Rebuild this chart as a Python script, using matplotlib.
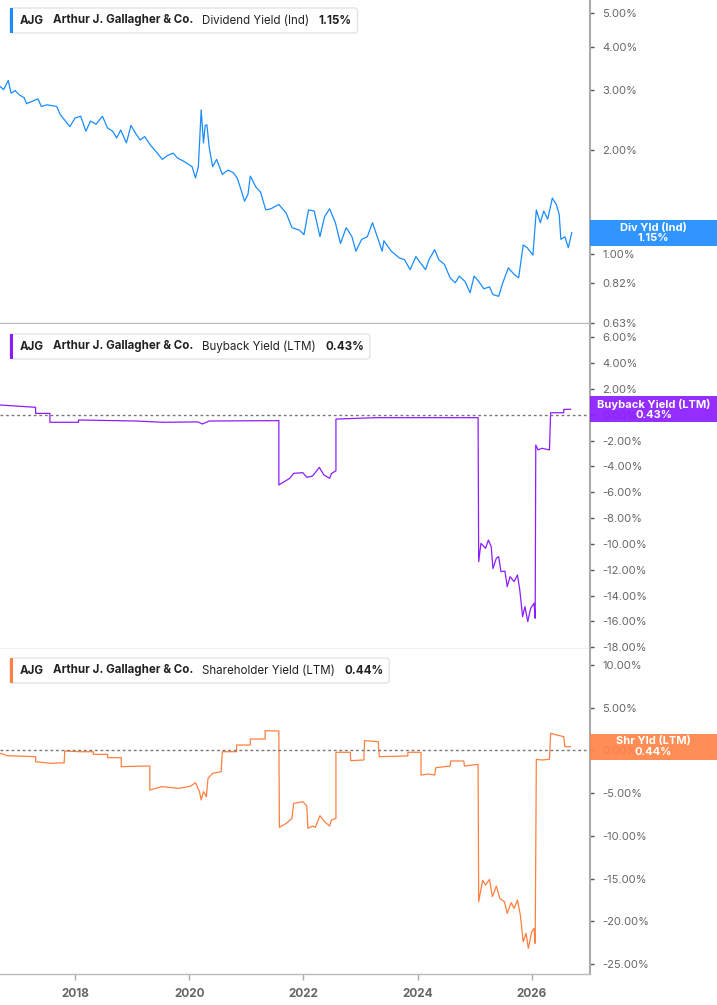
import numpy as np
import matplotlib.pyplot as plt
from matplotlib.patches import Rectangle, FancyBboxPatch
from matplotlib.ticker import FixedLocator, NullLocator, FuncFormatter
from matplotlib.transforms import IdentityTransform

plt.rcParams['font.family'] = ['Inter', 'DejaVu Sans']

# ---- data ----
div_years = [2016.69, 2016.75, 2016.83, 2016.88, 2016.95, 2017.02, 2017.11, 2017.15, 2017.35, 2017.41,
             2017.51, 2017.68, 2017.74, 2017.91, 2018.00, 2018.10, 2018.19, 2018.27, 2018.37, 2018.48,
             2018.57, 2018.66, 2018.73, 2018.80, 2018.90, 2018.98, 2019.06, 2019.14, 2019.22, 2019.32,
             2019.42, 2019.53, 2019.62, 2019.72, 2019.79, 2019.92, 2020.05, 2020.11, 2020.16, 2020.21,
             2020.25, 2020.28, 2020.31, 2020.35, 2020.41, 2020.48, 2020.58, 2020.68, 2020.77, 2020.84,
             2020.91, 2020.97, 2021.03, 2021.07, 2021.17, 2021.25, 2021.34, 2021.43, 2021.57, 2021.70,
             2021.80, 2021.93, 2022.01, 2022.09, 2022.19, 2022.29, 2022.37, 2022.46, 2022.56, 2022.65,
             2022.75, 2022.85, 2022.92, 2023.02, 2023.12, 2023.21, 2023.31, 2023.38, 2023.41, 2023.54,
             2023.68, 2023.77, 2023.87, 2023.97, 2024.07, 2024.14, 2024.20, 2024.30, 2024.37, 2024.47,
             2024.57, 2024.66, 2024.73, 2024.83, 2024.92, 2024.99, 2025.07, 2025.16, 2025.26, 2025.32,
             2025.42, 2025.49, 2025.59, 2025.69, 2025.77, 2025.85, 2025.92, 2026.02, 2026.08, 2026.15,
             2026.21, 2026.28, 2026.36, 2026.43, 2026.48, 2026.51, 2026.58, 2026.64, 2026.70]
div_vals = [3.06, 3.00, 3.19, 2.93, 2.98, 2.90, 2.84, 2.73, 2.82, 2.68,
            2.71, 2.68, 2.54, 2.34, 2.48, 2.51, 2.27, 2.43, 2.38, 2.51,
            2.32, 2.27, 2.17, 2.29, 2.10, 2.36, 2.24, 2.14, 2.19, 2.07,
            1.98, 1.88, 1.93, 1.96, 1.90, 1.85, 1.79, 1.66, 1.79, 2.62,
            2.10, 2.36, 2.37, 2.04, 1.79, 1.88, 1.70, 1.75, 1.72, 1.66,
            1.53, 1.42, 1.49, 1.68, 1.56, 1.51, 1.34, 1.35, 1.39, 1.31,
            1.19, 1.17, 1.135, 1.34, 1.33, 1.12, 1.28, 1.35, 1.23, 1.07,
            1.19, 1.12, 1.016, 1.10, 1.12, 1.23, 1.10, 1.016, 1.09, 1.016,
            0.971, 0.96, 0.898, 0.98, 0.93, 0.898, 0.96, 1.027, 0.96, 0.93,
            0.85, 0.822, 0.86, 0.83, 0.769, 0.86, 0.83, 0.79, 0.80, 0.76,
            0.751, 0.82, 0.909, 0.87, 0.85, 1.06, 1.04, 0.99, 1.34, 1.23,
            1.33, 1.26, 1.45, 1.39, 1.30, 1.10, 1.12, 1.04, 1.15]

bb_years = [2016.69, 2017.31, 2017.31, 2017.56, 2017.56, 2018.06, 2018.06, 2019.06, 2019.55, 2020.15,
            2020.23, 2020.35, 2021.57, 2021.57, 2021.76, 2021.83, 2021.99, 2022.06, 2022.16, 2022.28,
            2022.36, 2022.46, 2022.49, 2022.57, 2022.57, 2023.28, 2025.06, 2025.07, 2025.11, 2025.19,
            2025.24, 2025.29, 2025.32, 2025.38, 2025.42, 2025.46, 2025.53, 2025.57, 2025.62, 2025.69,
            2025.75, 2025.79, 2025.84, 2025.88, 2025.93, 2025.98, 2026.04, 2026.06, 2026.07, 2026.11,
            2026.18, 2026.31, 2026.33, 2026.56, 2026.56, 2026.68]
bb_vals = [0.76, 0.58, 0.11, 0.11, -0.58, -0.58, -0.40, -0.48, -0.58, -0.55,
           -0.71, -0.48, -0.45, -5.43, -4.92, -4.53, -4.48, -4.84, -4.74, -4.07,
           -4.66, -4.92, -4.55, -4.33, -0.33, -0.22, -0.22, -11.37, -9.95, -10.34,
           -9.70, -10.21, -11.90, -11.10, -10.98, -12.14, -12.10, -13.30, -12.53, -12.91,
           -12.40, -13.56, -15.62, -14.85, -16.01, -14.98, -14.59, -15.75, -2.34, -2.72,
           -2.59, -2.72, 0.16, 0.16, 0.42, 0.43]

shr_years = [2016.69, 2016.82, 2017.31, 2017.31, 2017.58, 2017.81, 2017.82, 2018.07, 2018.32, 2018.32,
             2018.57, 2018.57, 2018.81, 2018.81, 2019.31, 2019.31, 2019.52, 2019.82, 2020.02, 2020.11,
             2020.18, 2020.21, 2020.25, 2020.30, 2020.33, 2020.41, 2020.56, 2020.58, 2020.83, 2020.83,
             2021.07, 2021.07, 2021.33, 2021.33, 2021.57, 2021.58, 2021.70, 2021.80, 2021.83, 2021.99,
             2022.06, 2022.08, 2022.16, 2022.21, 2022.29, 2022.37, 2022.46, 2022.49, 2022.57, 2022.57,
             2022.82, 2022.83, 2023.06, 2023.07, 2023.31, 2023.33, 2023.83, 2023.83, 2024.06, 2024.06,
             2024.20, 2024.30, 2024.32, 2024.57, 2024.58, 2024.81, 2024.82, 2025.06, 2025.07, 2025.14,
             2025.19, 2025.26, 2025.31, 2025.38, 2025.44, 2025.52, 2025.57, 2025.64, 2025.69, 2025.75,
             2025.80, 2025.85, 2025.90, 2025.94, 2026.00, 2026.04, 2026.06, 2026.08, 2026.18, 2026.31,
             2026.33, 2026.44, 2026.56, 2026.58, 2026.68]
shr_vals = [-0.34, -0.62, -0.73, -1.32, -1.51, -1.45, -0.07, -0.15, -0.15, -0.46,
            -0.46, -0.85, -0.85, -1.90, -1.82, -4.64, -4.24, -4.44, -4.20, -3.78,
            -4.83, -5.80, -4.83, -5.42, -3.27, -2.68, -2.49, -0.15, -0.15, 0.63,
            0.63, 1.33, 1.33, 2.31, 2.27, -9.00, -8.54, -7.95, -6.20, -6.00,
            -6.51, -9.12, -8.85, -9.00, -7.64, -8.34, -8.85, -8.15, -7.95, -0.22,
            -0.22, -1.20, -1.12, 1.14, 1.02, -0.73, -0.65, -0.22, -0.22, -2.88,
            -2.76, -2.88, -2.02, -1.83, -1.24, -1.24, -1.83, -1.63, -17.71, -15.20,
            -15.76, -15.10, -17.12, -15.88, -17.32, -17.71, -19.07, -17.82, -18.49, -17.51,
            -19.27, -22.39, -21.41, -23.17, -21.22, -20.83, -22.58, -1.04, -1.12, -1.04,
            2.00, 1.80, 1.61, 0.44, 0.44]

year_ticks = [2018, 2020, 2022, 2024, 2026]
div_ticks = [0.63, 0.82, 1, 2, 3, 4, 5]
bb_ticks = [6, 4, 2, 0, -2, -4, -6, -8, -10, -12, -14, -16, -18]
shr_ticks = [10, 5, 0, -5, -10, -15, -20, -25]

blue = '#1a8cff'
purple = '#8b1eff'
orange = '#ff8040'

W, H = 717, 1005
fig = plt.figure(figsize=(W / 100, H / 100), dpi=100)
fig.patch.set_facecolor('white')

ax1 = fig.add_axes([0, 1 - 323 / H, 590 / W, 323 / H])
ax2 = fig.add_axes([0, 1 - 649 / H, 590 / W, 325 / H])
ax3 = fig.add_axes([0, 1 - 974 / H, 590 / W, 325 / H])

pct = FuncFormatter(lambda v, p: f'{v:.2f}%')

for ax in (ax1, ax2, ax3):
    ax.set_xlim(2016.686, 2027.02)
    ax.spines['top'].set_visible(False)
    ax.spines['left'].set_visible(False)
    ax.spines['right'].set_color('#aaaaaa')
    ax.spines['right'].set_linewidth(1.5)
    ax.spines['bottom'].set_color('#bbbbbb')
    ax.spines['bottom'].set_linewidth(1)
    ax.yaxis.tick_right()
    ax.tick_params(axis='y', which='major', length=3, width=1, color='#555555',
                   labelsize=8, labelcolor='#666666', pad=6)
    ax.set_xticks(year_ticks)
    ax.xaxis.set_minor_locator(NullLocator())

for ax in (ax1, ax2):
    ax.tick_params(axis='x', length=0, labelbottom=False)
ax3.tick_params(axis='x', length=4, width=1, color='#aaaaaa', labelsize=8.5,
                labelcolor='#666666', pad=6)
for lab in ax3.get_xticklabels():
    lab.set_fontweight('bold')

# top: dividend yield (log scale)
ax1.plot(div_years, div_vals, color=blue, lw=0.9)
ax1.set_yscale('log')
ax1.set_ylim(0.628, 5.47)
ax1.yaxis.set_major_locator(FixedLocator(div_ticks))
ax1.yaxis.set_minor_locator(NullLocator())
ax1.yaxis.set_major_formatter(pct)

# middle: buyback yield
ax2.plot(bb_years, bb_vals, color=purple, lw=0.9)
ax2.axhline(0, color='#777777', lw=1, linestyle=(0, (2, 2)))
ax2.set_ylim(-18.13, 7.03)
ax2.yaxis.set_major_locator(FixedLocator(bb_ticks))
ax2.yaxis.set_major_formatter(pct)

# bottom: shareholder yield
ax3.plot(shr_years, shr_vals, color=orange, lw=0.9)
ax3.axhline(0, color='#777777', lw=1, linestyle=(0, (2, 2)))
ax3.set_ylim(-26.17, 11.87)
ax3.yaxis.set_major_locator(FixedLocator(shr_ticks))
ax3.yaxis.set_major_formatter(pct)

renderer = fig.canvas.get_renderer()


def legend_box(y_top, color, metric, value):
    # y_top in pixels from the top of the image
    yc = H - (y_top + 12.5)
    x = 20
    pieces = [('AJG', 'bold'), ('Arthur J. Gallagher & Co.', 'bold'), (metric, 'normal'), (value, 'bold')]
    for txt, w in pieces:
        t = fig.text(x / W, yc / H, txt, fontsize=8.3, fontweight=w, color='#222222',
                     va='center', ha='left', zorder=5)
        bb = t.get_window_extent(renderer)
        x = bb.x1 + 9
    right = x - 9 + 6
    box = FancyBboxPatch((10, yc - 12.5), right - 10, 25, boxstyle='round,pad=0,rounding_size=3',
                         transform=IdentityTransform(), facecolor='white', edgecolor='#e3e3e3',
                         lw=1, zorder=3)
    fig.add_artist(box)
    fig.add_artist(Rectangle((10, yc - 12.5), 3, 25, transform=IdentityTransform(),
                             facecolor=color, edgecolor='none', zorder=4))


def value_tag(ax, val, color, label):
    # tag is slightly see-through, as in the reference (0.00% shows faintly behind it)
    yc = ax.transData.transform((2020, val))[1]
    fig.add_artist(Rectangle((590, yc - 13), 127, 26, transform=IdentityTransform(),
                             facecolor=color, edgecolor='none', alpha=0.92, zorder=4))
    fig.text(653.5 / W, yc / H, label, fontsize=8, fontweight='bold', color='white',
             ha='center', va='center', linespacing=1.05, zorder=5)


legend_box(8, blue, 'Dividend Yield (Ind)', '1.15%')
legend_box(334, purple, 'Buyback Yield (LTM)', '0.43%')
legend_box(658, orange, 'Shareholder Yield (LTM)', '0.44%')

value_tag(ax1, div_vals[-1], '#1e8cff', 'Div Yld (Ind)\n1.15%')
value_tag(ax2, bb_vals[-1], '#8a1cff', 'Buyback Yield (LTM)\n0.43%')
value_tag(ax3, shr_vals[-1], '#ff8447', 'Shr Yld (LTM)\n0.44%')

fig.savefig('out.png', dpi=100, facecolor='white')
